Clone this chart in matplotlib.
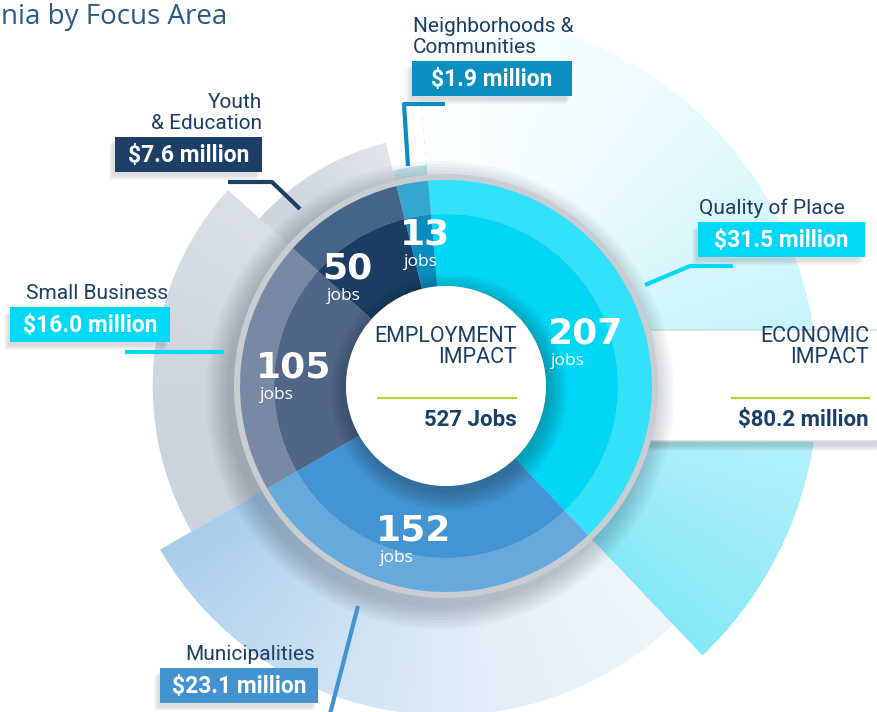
import numpy as np
import matplotlib.pyplot as plt
from matplotlib.patches import Wedge, Circle, Rectangle, FancyBboxPatch

# data (clockwise from the top of the ring)
areas = ['Quality of Place', 'Municipalities', 'Small Business',
         'Youth\n& Education', 'Neighborhoods &\nCommunities']
jobs = [207, 152, 105, 50, 13]
dollars = [31.5, 23.1, 16.0, 7.6, 1.9]
dollar_labels = ['$31.5 million', '$23.1 million', '$16.0 million',
                 '$7.6 million', '$1.9 million']
total_jobs_label = '527 Jobs'
total_dollars_label = '$80.2 million'

# colours
inner_colors = ['#00D6F5', '#4294D2', '#506687', '#1B3D64', '#0A8CBE']
band_colors = ['#33E2FA', '#66AADD', '#7789A3', '#456588', '#35A6CF']
fan_colors = ['#6FE4F7', '#8CBCE4', '#97A6BA', '#AEB9C8', '#9BD6EA']
fan_alpha = [(0.02, 0.85), (0.15, 0.75), (0.5, 0.35), (0.6, 0.35), (0.6, 0.6)]
box_colors = ['#00D8F8', '#4393D1', '#00D9F8', '#1B3F66', '#0A8FC1']
navy = '#1B3F66'
green = '#B5D334'

# layout (pixels, y down)
W, H = 878, 712
CX, CY = 446, 386
R_HOLE, R_INNER, R_BAND, R_RIM = 100, 172, 206, 212
R_FAN_MAX = 372
R_LAB = 150
START = 95
lab_nudge = [-5, -3, 0, 9, -2]   # degrees, keeps the counts apart
NARROW = ['Roboto', 'DejaVu Sans']
BIG = ['DejaVu Sans']
ROUND = ['Open Sans', 'DejaVu Sans']

box_rects = [(698, 222, 167, 35), (160, 668, 158, 35), (10, 307, 160, 35),
             (115, 137, 147, 35), (412, 61, 160, 35)]
title_anchor = [(699, 'left'), (315, 'right'), (168, 'right'),
                (262, 'right'), (413, 'left')]
leaders = [[(733, 266), (690, 266), (645, 285)],
           [(330, 714), (358, 606)],
           [(125, 352), (224, 352)],
           [(228, 182), (272, 182), (300, 209)],
           [(445, 104), (404, 104), (408, 166)]]

fig = plt.figure(figsize=(W / 100, H / 100), dpi=100)
ax = fig.add_axes([0, 0, 1, 1])
ax.axis('off')

spans = np.array(jobs) / np.sum(jobs) * 360
starts = START - np.concatenate([[0], np.cumsum(spans)[:-1]])
ends = starts - spans

# fans behind the ring, length from the dollar amounts
fan_r = R_RIM + (R_FAN_MAX - R_RIM) * np.array(dollars) / max(dollars)
yy, xx = np.mgrid[0:H, 0:W] + 0.5
phi = np.degrees(np.arctan2(-(yy - CY), xx - CX))
for i in range(len(jobs)):
    frac = np.clip(((starts[i] - phi) % 360) / spans[i], 0, 1)
    a0, a1 = fan_alpha[i]
    rgba = np.zeros((H, W, 4))
    rgba[..., :3] = plt.matplotlib.colors.to_rgb(fan_colors[i])
    rgba[..., 3] = a0 + (a1 - a0) * frac ** 1.6
    im = ax.imshow(rgba, extent=(0, W, H, 0), zorder=1, interpolation='bilinear')
    w = Wedge((CX, CY), fan_r[i], -starts[i], -ends[i], facecolor='none',
              edgecolor='none')
    ax.add_patch(w)
    im.set_clip_path(w)

# economic impact card
for k in range(6):
    ax.add_patch(FancyBboxPatch((620 - k, 336 + k), 270, 110,
                                boxstyle='round,pad=0,rounding_size=14',
                                facecolor='#30353a', alpha=0.035, lw=0, zorder=2))
ax.add_patch(FancyBboxPatch((620, 330), 270, 111,
                            boxstyle='round,pad=0,rounding_size=14',
                            facecolor='white', edgecolor='#D5D7DA', lw=1, zorder=2.2))
ax.text(869, 368, 'ECONOMIC\nIMPACT', ha='right', va='bottom', color=navy,
        fontsize=15.5, family=NARROW, linespacing=1.0, zorder=6)
ax.plot([732, 869], [398, 398], color=green, lw=1.6, zorder=6)
ax.text(869, 420, total_dollars_label, ha='right', va='center', color=navy,
        fontsize=16, fontweight='bold', family=NARROW, zorder=6)

# ring shadow, rim, ring
for k in range(8):
    ax.add_patch(Circle((CX - 6, CY + 9), R_RIM + 1 + 3 * k, facecolor='#2A3440',
                        alpha=0.035, lw=0, zorder=3))
ax.add_patch(Circle((CX, CY), R_RIM, facecolor='#C9CDD1', lw=0, zorder=3.5))
for i in range(len(jobs)):
    ax.add_patch(Wedge((CX, CY), R_BAND, -starts[i], -ends[i], width=R_BAND - R_INNER,
                       facecolor=band_colors[i], lw=0, zorder=4))
    ax.add_patch(Wedge((CX, CY), R_INNER, -starts[i], -ends[i], width=R_INNER - R_HOLE,
                       facecolor=inner_colors[i], lw=0, zorder=4))
for k in range(8):
    ax.add_patch(Circle((CX + 3, CY + 6), R_HOLE + 1 + 2.5 * k, facecolor='black',
                        alpha=0.03, lw=0, zorder=4.5))
ax.add_patch(Circle((CX, CY), R_HOLE, facecolor='white', lw=0, zorder=5))

# centre text
ax.text(517, 368, 'EMPLOYMENT\nIMPACT', ha='right', va='bottom', color=navy,
        fontsize=15.5, family=NARROW, linespacing=1.0, zorder=6)
ax.plot([378, 516], [398, 398], color=green, lw=1.6, zorder=6)
ax.text(517, 420, total_jobs_label, ha='right', va='center', color=navy,
        fontsize=16, fontweight='bold', family=NARROW, zorder=6)

# job counts on the ring
for i in range(len(jobs)):
    mid = np.radians((starts[i] + ends[i]) / 2 + lab_nudge[i])
    px, py = CX + R_LAB * np.cos(mid), CY - R_LAB * np.sin(mid)
    left = px - len(str(jobs[i])) * 13.5
    ax.text(left, py - 3, str(jobs[i]), ha='left', va='center', color='white',
            fontsize=26, fontweight='bold', family=BIG, zorder=6)
    ax.text(left + 4, py + 17, 'jobs', ha='left', va='top', color='white',
            fontsize=12.5, family=ROUND, zorder=6)

# focus area labels
for i in range(len(jobs)):
    bx, by, bw, bh = box_rects[i]
    for k in range(5):
        ax.add_patch(Rectangle((bx - 2 - k, by + 4 + k), bw, bh, facecolor='#20262c',
                               alpha=0.03, lw=0, zorder=5.5))
    ax.add_patch(Rectangle((bx, by), bw, bh, facecolor=box_colors[i], lw=0, zorder=6))
    ax.text(bx + bw / 2, by + bh / 2 + 1, dollar_labels[i], ha='center', va='center',
            color='white', fontsize=16.5, fontweight='bold', family=NARROW, zorder=7)
    tx, ha = title_anchor[i]
    ax.text(tx, by - 4, areas[i], ha=ha, va='bottom', color=navy, fontsize=15,
            family=NARROW, linespacing=1.1, zorder=7, multialignment=ha)
    lx, ly = zip(*leaders[i])
    ax.plot(lx, ly, color=box_colors[i], lw=3, solid_capstyle='butt', zorder=5.8)

ax.text(1, 17, 'nia by Focus Area', ha='left', va='center', color='#2B5A86',
        fontsize=20, family=ROUND, zorder=7)

ax.set_xlim(0, W)
ax.set_ylim(H, 0)
fig.savefig('out.png', dpi=100)
